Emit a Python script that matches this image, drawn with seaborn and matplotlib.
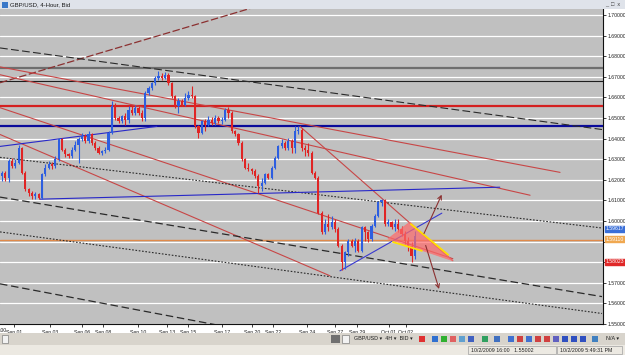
import matplotlib
matplotlib.use("Agg")
import matplotlib.pyplot as plt
from matplotlib.patches import Rectangle, Polygon
import numpy as np
import pandas as pd
import seaborn as sns

# ---------------- data ----------------
first_open = 1.6218
closes = [1.6235, 1.6210, 1.6291, 1.6267, 1.6283, 1.6355, 1.6235, 1.6154, 1.6138, 1.6119,
          1.6130, 1.6114, 1.6226, 1.6259, 1.6275, 1.6267, 1.6299, 1.6396, 1.6347, 1.6323,
          1.6315, 1.6347, 1.6371, 1.6396, 1.6412, 1.6388, 1.6420, 1.6380, 1.6355, 1.6331,
          1.6339, 1.6347, 1.6428, 1.6557, 1.6500, 1.6484, 1.6508, 1.6492, 1.6541, 1.6524,
          1.6549, 1.6524, 1.6500, 1.6621, 1.6645, 1.6669, 1.6693, 1.6702, 1.6693, 1.6710,
          1.6669, 1.6605, 1.6557, 1.6581, 1.6565, 1.6597, 1.6613, 1.6605, 1.6460, 1.6428,
          1.6484, 1.6468, 1.6492, 1.6476, 1.6500, 1.6484, 1.6492, 1.6541, 1.6524, 1.6436,
          1.6420, 1.6380, 1.6299, 1.6259, 1.6251, 1.6243, 1.6218, 1.6170, 1.6186, 1.6226,
          1.6210, 1.6259, 1.6307, 1.6363, 1.6380, 1.6355, 1.6388, 1.6355, 1.6436, 1.6444,
          1.6355, 1.6347, 1.6331, 1.6235, 1.6210, 1.6041, 1.5945, 1.5985, 1.5969, 1.5993,
          1.5961, 1.5880, 1.5800, 1.5848, 1.5905, 1.5880, 1.5905, 1.5856, 1.5969, 1.5945,
          1.5913, 1.5977, 1.6025, 1.6090, 1.6102, 1.5985, 1.5993, 1.5969, 1.5985, 1.5961,
          1.5937, 1.5905, 1.5880, 1.5832, 1.5929]
highs = [1.6243, 1.6243, 1.6299, 1.6307, 1.6299, 1.6367, 1.6360, 1.6243, 1.6162, 1.6146,
         1.6141, 1.6138, 1.6235, 1.6275, 1.6291, 1.6286, 1.6315, 1.6404, 1.6404, 1.6355,
         1.6331, 1.6360, 1.6388, 1.6409, 1.6428, 1.6420, 1.6436, 1.6428, 1.6388, 1.6363,
         1.6347, 1.6360, 1.6436, 1.6581, 1.6573, 1.6508, 1.6516, 1.6524, 1.6557, 1.6557,
         1.6565, 1.6557, 1.6541, 1.6629, 1.6653, 1.6677, 1.6702, 1.6726, 1.6718, 1.6721,
         1.6718, 1.6677, 1.6613, 1.6597, 1.6592, 1.6621, 1.6629, 1.6653, 1.6613, 1.6468,
         1.6492, 1.6495, 1.6508, 1.6505, 1.6516, 1.6508, 1.6505, 1.6549, 1.6553, 1.6532,
         1.6444, 1.6428, 1.6388, 1.6307, 1.6283, 1.6259, 1.6251, 1.6226, 1.6210, 1.6235,
         1.6235, 1.6267, 1.6315, 1.6371, 1.6396, 1.6388, 1.6404, 1.6396, 1.6460, 1.6460,
         1.6452, 1.6371, 1.6380, 1.6339, 1.6243, 1.6218, 1.6049, 1.6009, 1.6033, 1.6025,
         1.6009, 1.5969, 1.5889, 1.5856, 1.5913, 1.5913, 1.5916, 1.5913, 1.5977, 1.5977,
         1.5953, 1.5985, 1.6033, 1.6098, 1.6109, 1.6106, 1.6009, 1.6001, 1.6009, 1.6012,
         1.5977, 1.5953, 1.5921, 1.5897, 1.5953]
lows = [1.6194, 1.6194, 1.6190, 1.6259, 1.6259, 1.6275, 1.6226, 1.6146, 1.6122, 1.6109,
        1.6109, 1.6106, 1.6109, 1.6218, 1.6251, 1.6254, 1.6259, 1.6291, 1.6339, 1.6312,
        1.6305, 1.6307, 1.6339, 1.6283, 1.6388, 1.6380, 1.6380, 1.6371, 1.6347, 1.6323,
        1.6318, 1.6331, 1.6339, 1.6420, 1.6492, 1.6476, 1.6476, 1.6468, 1.6476, 1.6516,
        1.6516, 1.6516, 1.6484, 1.6484, 1.6613, 1.6637, 1.6661, 1.6685, 1.6685, 1.6689,
        1.6661, 1.6597, 1.6549, 1.6524, 1.6557, 1.6557, 1.6589, 1.6597, 1.6452, 1.6404,
        1.6420, 1.6436, 1.6460, 1.6468, 1.6468, 1.6476, 1.6473, 1.6484, 1.6500, 1.6428,
        1.6412, 1.6371, 1.6291, 1.6251, 1.6243, 1.6226, 1.6210, 1.6138, 1.6146, 1.6178,
        1.6202, 1.6202, 1.6251, 1.6299, 1.6355, 1.6347, 1.6347, 1.6331, 1.6331, 1.6420,
        1.6339, 1.6315, 1.6315, 1.6226, 1.6202, 1.6033, 1.5937, 1.5937, 1.5953, 1.5961,
        1.5945, 1.5872, 1.5760, 1.5768, 1.5832, 1.5872, 1.5848, 1.5848, 1.5848, 1.5905,
        1.5900, 1.5905, 1.5969, 1.6017, 1.6074, 1.5977, 1.5977, 1.5961, 1.5953, 1.5945,
        1.5929, 1.5889, 1.5856, 1.5800, 1.5816]

y_ticks = [1.55, 1.56, 1.57, 1.58, 1.59, 1.60, 1.61, 1.62, 1.63, 1.64, 1.65, 1.66, 1.67, 1.68, 1.69, 1.70]
y_tick_labels = ["1.55000", "1.56000", "1.57000", "", "", "1.60000", "1.61000", "1.62000",
                 "1.63000", "1.64000", "1.65000", "1.66000", "1.67000", "1.68000", "1.69000", "1.70000"]
x_labels = ["Sep 01", "Sep 03", "Sep 06", "Sep 08", "Sep 10", "Sep 13", "Sep 15", "Sep 17",
            "Sep 20", "Sep 22", "Sep 24", "Sep 27", "Sep 29", "Oct 01", "Oct 02"]
x_label_pos = [3.6, 14.4, 24.0, 30.3, 40.8, 49.5, 55.9, 66.1, 75.1, 81.4, 91.6, 100.0, 106.6, 116.2, 121.3]

# horizontal levels
h_levels = [1.6744, 1.6681, 1.6557, 1.6460, 1.5908]
h_colors = ["#6e6e6e", "#1e1e1e", "#d42020", "#0a0a9a", "#e08a4a"]
h_widths = [1.6, 0.8, 1.6, 1.6, 1.0]

# trend lines: (x0, x1, y0, y1)
tl_maroon = [-0.6, 90.0, 1.6671, 1.7106]
tl_black_top = [-0.6, 180.2, 1.6840, 1.6444]
tl_red_a = [-0.6, 167.6, 1.6748, 1.6236]
tl_red_b = [-0.6, 158.6, 1.6710, 1.6125]
tl_red_c = [-0.6, 135.4, 1.6550, 1.5817]
tl_red_d = [-0.6, 98.5, 1.6420, 1.5734]
tl_red_e = [89.5, 135.4, 1.6459, 1.5807]
tl_dot_1 = [-0.6, 180.2, 1.6309, 1.5966]
tl_dash_1 = [-0.6, 180.2, 1.6116, 1.5633]
tl_dot_2 = [-0.6, 180.2, 1.5947, 1.5551]
tl_dash_2 = [-0.6, 64.0, 1.5695, 1.5497]
tl_blue_1 = [-0.6, 46.5, 1.6362, 1.6459]
tl_blue_2 = [11.4, 149.5, 1.6106, 1.6164]
tl_blue_3 = [101.5, 132.1, 1.5758, 1.6038]
tl_yellow_1 = [122.8, 134.0, 1.5985, 1.5836]
tl_yellow_2 = [117.4, 126.1, 1.5898, 1.5855]
arrow_up = [126.4, 132.4, 1.5927, 1.6140]
arrow_down = [127.0, 131.5, 1.5894, 1.5657]
triangle_x = [115.9, 122.5, 135.4]
triangle_y = [1.5913, 1.5995, 1.5807]

price_tags = [1.59617, 1.59110, 1.58023]
price_tag_colors = ["#3a6fd8", "#f0a850", "#e02828"]

# ---------------- figure ----------------
sns.set_theme(style="white")
plt.rcParams['font.family'] = ['Liberation Sans', 'DejaVu Sans']

FS = 3.7
W, H = 625, 355
fig = plt.figure(figsize=(W / 100, H / 100), dpi=100, facecolor="white")
ax = fig.add_axes([0, (H - 324) / H, 603 / W, (324 - 9) / H])
ax.set_facecolor("#c0c0c0")
ax.set_xlim(-0.6, 180.5)
ax.set_ylim(1.5507, 1.7029)

# grid
for t in y_ticks:
    ax.axhline(t, color="white", lw=0.9, zorder=1)

# horizontal levels
for lv, cc, lw in zip(h_levels, h_colors, h_widths):
    ax.axhline(lv, color=cc, lw=lw, zorder=3)

def tl(seg, color, ls="-", lw=0.8, z=4):
    df = pd.DataFrame({"x": seg[:2], "y": seg[2:]})
    sns.lineplot(data=df, x="x", y="y", ax=ax, color=color, lw=lw, linestyle=ls,
                 estimator=None, sort=False, zorder=z)

tl(tl_maroon, "#8b3030", (0, (6, 2)), 0.9)
tl(tl_black_top, "#2a2a2a", (0, (7, 3)), 0.8)
tl(tl_red_a, "#c84646")
tl(tl_red_b, "#c84646")
tl(tl_red_c, "#c84646")
tl(tl_red_d, "#c84646")
tl(tl_red_e, "#c84646")
tl(tl_dot_1, "#2a2a2a", (0, (1.5, 1.5)), 0.8)
tl(tl_dash_1, "#2a2a2a", (0, (6, 3)), 0.9)
tl(tl_dot_2, "#2a2a2a", (0, (1.5, 1.5)), 0.8)
tl(tl_dash_2, "#2a2a2a", (0, (6, 3)), 0.9)
tl(tl_blue_1, "#2828c8")
tl(tl_blue_2, "#2828c8")
tl(tl_blue_3, "#3838d0")

# candles
o = np.array([first_open] + closes[:-1])
c = np.array(closes)
h = np.array(highs)
l = np.array(lows)
idx = np.arange(len(c))
cols = np.where(c >= o, "#2d5ee0", "#e02424")
ax.vlines(idx, l, h, colors=cols, lw=0.8, zorder=6)
ax.bar(idx, np.maximum(np.abs(c - o), 0.00025), bottom=np.minimum(o, c), width=0.66,
       color=cols, lw=0, zorder=7)

# wedge
ax.add_patch(Polygon(list(zip(triangle_x, triangle_y)), closed=True, facecolor="#ff6a6a",
                     edgecolor="#ff7070", alpha=0.7, lw=0.6, zorder=8))
tl(tl_yellow_1, "#ffe000", "-", 1.3, 9)
tl(tl_yellow_2, "#ffe000", "-", 1.3, 9)
for a in (arrow_up, arrow_down):
    ax.annotate("", xy=(a[1], a[3]), xytext=(a[0], a[2]),
                arrowprops=dict(arrowstyle="->", color="#8b3030", lw=0.8,
                                mutation_scale=7), zorder=9)

# axes styling
ax.set_xlabel("")
ax.set_ylabel("")
ax.yaxis.tick_right()
ax.set_yticks(y_ticks)
ax.set_yticklabels(y_tick_labels)
ax.set_xticks(x_label_pos)
ax.set_xticklabels(x_labels)
ax.tick_params(axis="y", which="both", right=True, left=False, length=2.5, width=0.6,
               pad=0.8, labelsize=FS, colors="#202020")
ax.tick_params(axis="x", which="both", bottom=True, length=2.5, width=0.6, pad=1.8,
               labelsize=FS, colors="#202020")
for s in ["left", "top"]:
    ax.spines[s].set_visible(False)
for s in ["right", "bottom"]:
    ax.spines[s].set_color("#101010")
    ax.spines[s].set_linewidth(0.8)

for val, colr in zip(price_tags, price_tag_colors):
    ax.text(1.0045, val, f"{val:.5f}", transform=ax.get_yaxis_transform(), fontsize=FS,
            color="white", va="center", ha="left", zorder=10, clip_on=False,
            bbox=dict(boxstyle="square,pad=0.12", facecolor=colr, edgecolor=colr))

fig.text(0 / W, 1 - 331 / H, ":00", fontsize=FS, color="#202020", va="center", ha="left")

# ---------------- window chrome ----------------
def frect(x0, y0, x1, y1, color, z=1, ec="none"):
    fig.add_artist(Rectangle((x0 / W, 1 - y1 / H), (x1 - x0) / W, (y1 - y0) / H,
                             transform=fig.transFigure, facecolor=color, edgecolor=ec,
                             lw=0.5, zorder=z))

frect(0, 0, W, 9, "#dfe3ea")
frect(2, 1.5, 8, 7.5, "#3a78c8")
fig.text(10 / W, 1 - 4.6 / H, "GBP/USD, 4-Hour, Bid", fontsize=4.3, color="#1a1a1a",
         va="center", ha="left")
fig.text(613 / W, 1 - 4.6 / H, "_  \u25a1  x", fontsize=4.0, color="#404040",
         va="center", ha="center")

frect(0, 333, W, 345, "#d8d4cc")
frect(2, 335, 8, 343, "#f2f2f2", ec="#808080")
frect(331, 335, 340, 343, "#707070")
frect(342, 335, 349, 343, "#f2f2f2", ec="#808080")
fig.text(354 / W, 1 - 339 / H, "GBP/USD \u25be  4H \u25be  BID \u25be", fontsize=3.9,
         color="#202020", va="center", ha="left")
icons = [(419, "#e03030"), (432, "#3070d0"), (441, "#30b030"), (450, "#e06060"),
         (459, "#60a0d0"), (468, "#4060c0"), (482, "#30a060"), (494, "#4070c0"),
         (508, "#4070d0"), (517, "#d04040"), (526, "#4070d0"), (535, "#d04040"),
         (544, "#d04040"), (553, "#6060c0"), (562, "#3050c0"), (571, "#3050c0"),
         (580, "#3050c0"), (592, "#4080c0")]
for xx, cc in icons:
    frect(xx, 336, xx + 6, 342, cc)
fig.text(606 / W, 1 - 339 / H, "N/A \u25be", fontsize=3.9, color="#202020",
         va="center", ha="left")

frect(0, 345, W, H, "#ece9e2")
frect(468, 346, 556, 354, "#ece9e2", ec="#a0a0a0")
frect(557, 346, 622, 354, "#ece9e2", ec="#a0a0a0")
fig.text(471 / W, 1 - 350 / H, "10/2/2009 16:00   1.55002", fontsize=3.8, color="#202020",
         va="center", ha="left")
fig.text(560 / W, 1 - 350 / H, "10/2/2009 5:49:31 PM", fontsize=3.8, color="#202020",
         va="center", ha="left")

fig.savefig("out.png", dpi=100, facecolor="white")
